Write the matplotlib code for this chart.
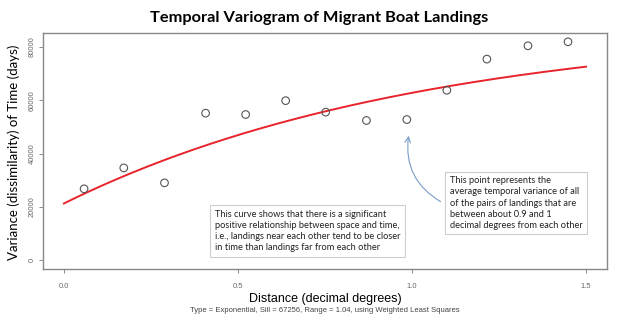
import numpy as np
import matplotlib
matplotlib.use("Agg")
import matplotlib.pyplot as plt

# binned semivariance (distance in decimal degrees, variance in days)
DIST = [0.058, 0.172, 0.289, 0.407, 0.522, 0.637, 0.752, 0.869, 0.985, 1.100, 1.215, 1.333, 1.448]
GAMMA = [26800, 34650, 29050, 55200, 54700, 59900, 55600, 52450, 52800, 63800, 75500, 80500, 82000]

# fitted exponential model
NUGGET = 21300
PSILL = 67256
RANGE = 1.04

TITLE = "Temporal Variogram of Migrant Boat Landings"
X_LABEL = "Distance (decimal degrees)"
Y_LABEL = "Variance (dissimilarity) of Time (days)"
SUBTITLE = "Type = Exponential, Sill = 67256, Range = 1.04, using Weighted Least Squares"
NOTE_CURVE = ("This curve shows that there is a significant\n"
              "positive relationship between space and time,\n"
              "i.e., landings near each other tend to be closer\n"
              "in time than landings far from each other")
NOTE_POINT = ("This point represents the\n"
              "average temporal variance of all\n"
              "of the pairs of landings that are\n"
              "between about 0.9 and 1\n"
              "decimal degrees from each other")

X_TICKS = [0.0, 0.5, 1.0, 1.5]
Y_TICKS = [0, 20000, 40000, 60000, 80000]

fig = plt.figure(figsize=(6.24, 3.24), dpi=100)
ax = fig.add_axes([43 / 624, 1 - 269 / 324, (607 - 43) / 624, (269 - 33) / 324])

h = np.linspace(0, 1.5, 200)
model = NUGGET + PSILL * (1 - np.exp(-h / RANGE))
ax.plot(h, model, color="#e8232b", lw=1.4)
ax.scatter(DIST, GAMMA, s=30, facecolors="none", edgecolors="#555555", linewidths=0.8, zorder=3)

ax.set_xlim(-0.06, 1.56)
ax.set_ylim(-3300, 85300)
ax.set_xticks(X_TICKS)
ax.set_xticklabels([f"{t:.1f}" for t in X_TICKS], fontsize=5.5, color="#666666",
                   family="Liberation Sans")
ax.set_yticks(Y_TICKS)
ax.set_yticklabels([str(t) for t in Y_TICKS], fontsize=5.5, color="#666666",
                   family="Liberation Sans", rotation=90, va="center")
ax.tick_params(length=3, width=0.6, color="#777777")
ax.tick_params(axis="x", pad=7)
ax.tick_params(axis="y", pad=2)
for sp in ax.spines.values():
    sp.set_color("#888888")
    sp.set_linewidth(1.0)

fig.text(319 / 624, 1 - 18 / 324, TITLE, ha="center", va="center",
         fontsize=11.8, fontweight="bold", family="Lato")
fig.text(14 / 624, 1 - 152 / 324, Y_LABEL, ha="center", va="center", rotation=90,
         fontsize=9.5, family="Lato")
fig.text(325 / 624, 1 - 299 / 324, X_LABEL, ha="center", va="center",
         fontsize=9, family="Liberation Sans")
fig.text(325 / 624, 1 - 310 / 324, SUBTITLE, ha="center", va="center",
         fontsize=5.5, color="#444444", family="Liberation Sans")

box = dict(boxstyle="square,pad=0.5", fc="white", ec="#cccccc", lw=0.8)
fig.text(215 / 624, 1 - 231 / 324, NOTE_CURVE, ha="left", va="center",
         fontsize=6.7, family="Lato", linespacing=1.3, bbox=box, color="#222222")
fig.text(450 / 624, 1 - 203 / 324, NOTE_POINT, ha="left", va="center",
         fontsize=6.7, family="Lato", linespacing=1.3, bbox=box, color="#222222")

ax.annotate("", xy=(409, 324 - 133), xycoords="figure pixels",
            xytext=(443, 324 - 203), textcoords="figure pixels",
            arrowprops=dict(arrowstyle="->", color="#7a9cc6", lw=0.8,
                            connectionstyle="arc3,rad=-0.35"))

fig.savefig("out.png", dpi=100)
